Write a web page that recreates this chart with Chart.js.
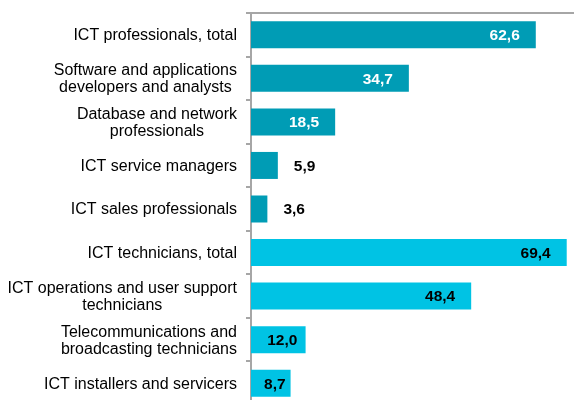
<!DOCTYPE html>
<html>
<head>
<meta charset="utf-8">
<script src="https://cdn.jsdelivr.net/npm/chart.js@4/dist/chart.umd.min.js"></script>
<style>
  html, body { margin: 0; padding: 0; background: #fff; overflow: hidden; }
  #wrap { position: relative; width: 574px; height: 405px; }
</style>
</head>
<body>
<div id="wrap"><canvas id="c"></canvas></div>
<script>
const categories = [
  "ICT professionals, total",
  ["Software and applications", "developers and analysts"],
  ["Database and network", "professionals"],
  "ICT service managers",
  "ICT sales professionals",
  "ICT technicians, total",
  ["ICT operations and user support", "technicians"],
  ["Telecommunications and", "broadcasting technicians"],
  "ICT installers and servicers"
];
const values = [62.6, 34.7, 18.5, 5.9, 3.6, 69.4, 48.4, 12.0, 8.7];
const groups = ["professionals","professionals","professionals","professionals","professionals",
                "technicians","technicians","technicians","technicians"];

const DARK = "#009CB5";
const LIGHT = "#00C3E4";
const AXIS = "#A6A6A6";
const FONT = "'Liberation Sans', Arial, sans-serif";

const catLabels = {
  id: "catLabels",
  afterDraw(chart) {
    const ctx = chart.ctx;
    const y = chart.scales.y;
    ctx.save();
    ctx.font = "16px " + FONT;
    ctx.fillStyle = "#000";
    ctx.textBaseline = "middle";
    ctx.textAlign = "center";
    const rightEdge = y.right - 14;
    categories.forEach((lab, i) => {
      const lines = Array.isArray(lab) ? lab : [lab];
      const w = Math.max(...lines.map(l => ctx.measureText(l).width));
      const cx = rightEdge - w / 2;
      const cy = y.getPixelForTick(i);
      const lh = 17;
      lines.forEach((l, k) => {
        ctx.fillText(l, cx, cy + (k - (lines.length - 1) / 2) * lh + 1);
      });
    });
    ctx.restore();
  }
};

const labelPlugin = {
  id: "valueLabels",
  afterDatasetsDraw(chart) {
    const ctx = chart.ctx;
    const meta = chart.getDatasetMeta(0);
    ctx.save();
    ctx.font = "bold 15.5px " + FONT;
    ctx.textBaseline = "middle";
    meta.data.forEach((bar, i) => {
      const v = values[i];
      const txt = v.toFixed(1).replace(".", ",");
      const dark = groups[i] === "professionals";
      const start = bar.base;
      const end = bar.x;
      if (v < 8) {
        ctx.fillStyle = "#000";
        ctx.textAlign = "left";
        ctx.fillText(txt, end + 16, bar.y + 1);
      } else if (v < 15) {
        ctx.fillStyle = dark ? "#fff" : "#000";
        ctx.textAlign = "center";
        ctx.fillText(txt, (start + end) / 2 + 4, bar.y + 1);
      } else {
        ctx.fillStyle = dark ? "#fff" : "#000";
        ctx.textAlign = "right";
        ctx.fillText(txt, end - 16, bar.y + 1);
      }
    });
    ctx.restore();
  }
};

const topLine = {
  id: "topLine",
  afterDraw(chart) {
    const a = chart.chartArea;
    const ctx = chart.ctx;
    ctx.save();
    ctx.strokeStyle = AXIS;
    ctx.lineWidth = 2;
    ctx.beginPath();
    ctx.moveTo(a.left - 4, a.top);
    ctx.lineTo(chart.width, a.top);
    ctx.stroke();
    ctx.restore();
  }
};

new Chart(document.getElementById("c"), {
  type: "bar",
  data: {
    labels: categories,
    datasets: [{
      data: values,
      backgroundColor: groups.map(g => g === "professionals" ? DARK : LIGHT),
      borderWidth: 0,
      barPercentage: 0.62,
      categoryPercentage: 1.0
    }]
  },
  options: {
    indexAxis: "y",
    responsive: true,
    maintainAspectRatio: false,
    animation: false,
    layout: { padding: { top: 13, right: 0, bottom: 0, left: 0 } },
    plugins: { legend: { display: false }, tooltip: { enabled: false } },
    scales: {
      x: {
        display: false,
        min: 0,
        max: 71
      },
      y: {
        afterFit(scale) { scale.width = 251; },
        grid: {
          offset: true,
          drawOnChartArea: false,
          drawTicks: true,
          tickLength: 5,
          color: AXIS,
          lineWidth: 2
        },
        border: { display: true, color: AXIS, width: 2 },
        ticks: { display: false }
      }
    }
  },
  plugins: [labelPlugin, topLine, catLabels]
});
</script>
</body>
</html>
